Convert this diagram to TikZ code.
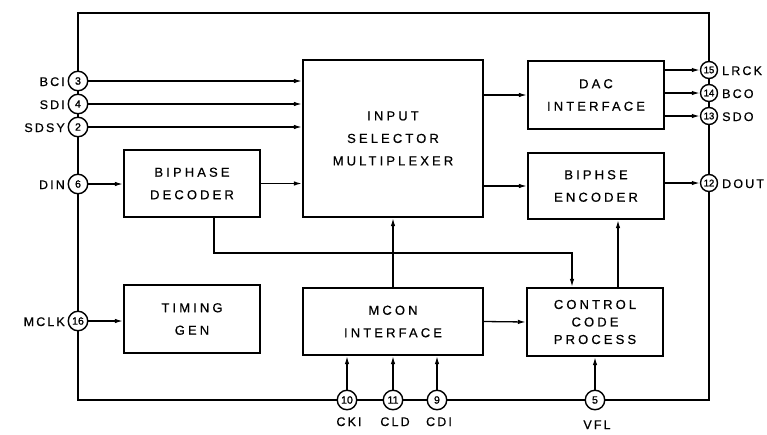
\documentclass[tikz,border=0pt]{standalone}
\usepackage{fontspec}
\setmainfont{Liberation Sans}[LetterSpace=24,FakeBold=0.6]
\newfontfamily\pinfont{Liberation Sans}[FakeBold=1.5]
\newfontfamily\lblfont{Liberation Sans}[LetterSpace=17,FakeBold=0.6]
\usetikzlibrary{arrows.meta}
\begin{document}
\begin{tikzpicture}[x=1pt,y=-1pt,
  blk/.style={draw, line width=2.2pt, inner sep=0pt, align=center,
    font=\fontsize{13}{22.5}\selectfont},
  pinc/.style={circle, draw, fill=white, line width=1.4pt, inner sep=0pt,
    minimum size=19.5pt, font=\pinfont\fontsize{10.5}{11}\selectfont},
  pinr/.style={pinc, minimum size=17pt, font=\pinfont\fontsize{9.5}{10}\selectfont},
  lbl/.style={font=\lblfont\fontsize{12.5}{14}\selectfont, inner sep=0pt},
  arr/.style={line width=1.3pt, -{Latex[length=8pt,width=4.5pt]}},
  frame/.style={line width=2.8pt}]
\useasboundingbox (0,0) rectangle (767,434);
% outer frame
\draw[frame] (78,13) rectangle (709,400);
% blocks
\node[blk, minimum width=180pt, minimum height=157pt] (sel) at (393,138.5) {INPUT\\SELECTOR\\MULTIPLEXER};
\node[blk, minimum width=136pt, minimum height=67pt] (dec) at (192,183.5) {BIPHASE\\DECODER};
\node[blk, minimum width=136pt, minimum height=68pt] (dac) at (596,95) {DAC\\INTERFACE};
\node[blk, minimum width=136pt, minimum height=66pt] (enc) at (596,186) {BIPHSE\\ENCODER};
\node[blk, minimum width=136pt, minimum height=68pt] (tim) at (192,319) {TIMING\\GEN};
\node[blk, minimum width=180pt, minimum height=67pt] (mcon) at (393,321.5) {MCON\\INTERFACE};
\node[blk, minimum width=136pt, minimum height=68pt, font=\fontsize{13}{17.5}\selectfont] (ccp) at (595,322) {CONTROL\\CODE\\PROCESS};
% pins left
\node[pinc] (p3) at (78,81) {3};
\node[pinc] (p4) at (78,104) {4};
\node[pinc] (p2) at (78,127) {2};
\node[pinc] (p6) at (78,184) {6};
\node[pinc] (p16) at (78,321) {16};
% pins right
\node[pinr] (p15) at (709,70) {15};
\node[pinr] (p14) at (709,93) {14};
\node[pinr] (p13) at (709,116) {13};
\node[pinr] (p12) at (709,183) {12};
% pins bottom
\node[pinc] (p10) at (347,400) {10};
\node[pinc] (p11) at (393,400) {11};
\node[pinc] (p9) at (437,400) {9};
\node[pinc] (p5) at (595,400) {5};
% labels
\node[lbl, anchor=base east] at (65,86) {BCI};
\node[lbl, anchor=base east] at (65,109) {SDI};
\node[lbl, anchor=base east] at (65,132) {SDSY};
\node[lbl, anchor=base east] at (65,189) {DIN};
\node[lbl, anchor=base east] at (65,326) {MCLK};
\node[lbl, anchor=base west] at (722,75) {LRCK};
\node[lbl, anchor=base west] at (722,98) {BCO};
\node[lbl, anchor=base west] at (722,121) {SDO};
\node[lbl, anchor=base west] at (722,188) {DOUT};
\node[lbl, anchor=base] at (349,426) {CKI};
\node[lbl, anchor=base] at (395,426) {CLD};
\node[lbl, anchor=base] at (439,426) {CDI};
\node[lbl, anchor=base] at (597,429) {VFL};
% connectors
\draw[arr] (p3) -- (p3 -| sel.west);
\draw[arr] (p4) -- (p4 -| sel.west);
\draw[arr] (p2) -- (p2 -| sel.west);
\draw[arr] (p6) -- (p6 -| dec.west);
\draw[arr] (dec.east) -- (dec.east -| sel.west);
\draw[arr] (sel.east |- dac.west) -- (dac.west);
\draw[arr] (sel.east |- enc.west) -- (enc.west);
\draw[arr] (dac.east |- p15) -- (p15);
\draw[arr] (dac.east |- p14) -- (p14);
\draw[arr] (dac.east |- p13) -- (p13);
\draw[arr] (enc.east |- p12) -- (p12);
\coordinate (jn) at (572,253);
\draw[arr] ([xshift=22]dec.south) |- (jn) -- (jn |- ccp.north);
\draw[arr] (mcon.north) -- (sel.south);
\draw[arr] (mcon.east) -- (ccp.west);
\draw[arr] ([xshift=23]ccp.north) -- ([xshift=23]ccp.north |- enc.south);
\draw[arr] (p5) -- (ccp.south);
\draw[arr] (p10) -- (p10 |- mcon.south);
\draw[arr] (p11) -- (mcon.south);
\draw[arr] (p9) -- (p9 |- mcon.south);
\draw[arr] (p16) -- (p16 -| tim.west);
\end{tikzpicture}
\end{document}
